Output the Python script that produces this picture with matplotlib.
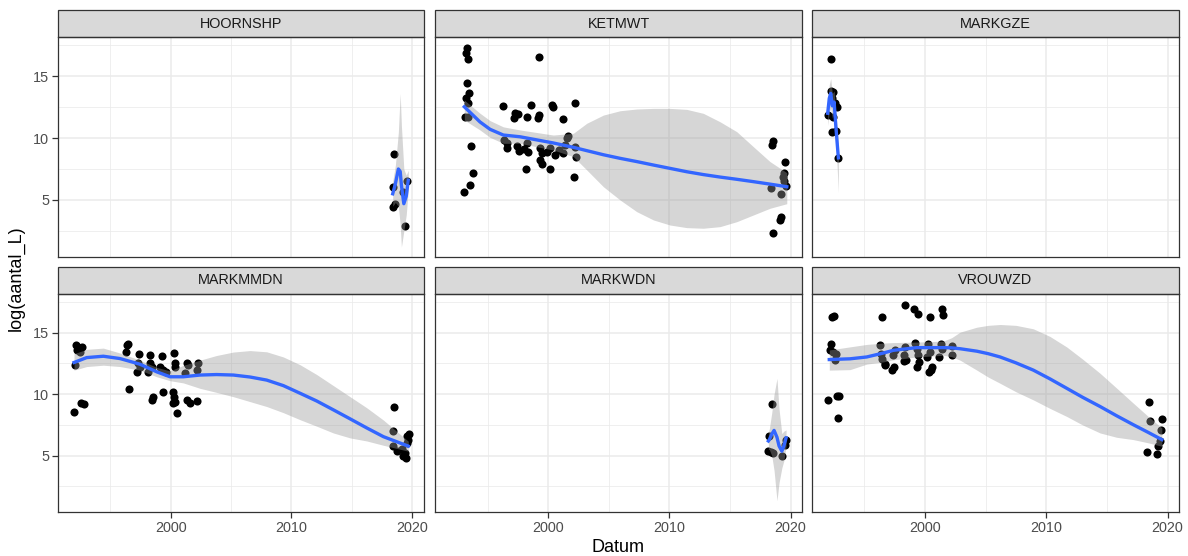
import numpy as np
import matplotlib.pyplot as plt
from matplotlib.patches import Rectangle

plt.rcParams['font.family'] = ['Liberation Sans', 'DejaVu Sans']

# ---- data ----
facetten = ["HOORNSHP", "KETMWT", "MARKGZE", "MARKMMDN", "MARKWDN", "VROUWZD"]

# HOORNSHP
hoornshp_jaar = [2018.5, 2018.38, 2018.4, 2018.6, 2019.4, 2019.6, 2019.26]
hoornshp_log = [8.69, 6.07, 4.46, 4.68, 2.9, 6.55, 5.67]
hoornshp_sm_jaar = [2018.38, 2018.6, 2018.85, 2019.0, 2019.1, 2019.3, 2019.5, 2019.67]
hoornshp_sm_fit = [5.5, 6.3, 7.5, 7.3, 6.2, 4.7, 5.3, 6.6]
hoornshp_sm_hoog = [6.5, 7.8, 10.5, 13.6, 11.0, 7.5, 7.0, 7.4]
hoornshp_sm_laag = [4.5, 4.8, 4.5, 3.0, 1.2, 2.5, 3.8, 5.8]

# KETMWT
ketmwt_jaar = [1993.27, 1993.21, 1993.37, 1999.24, 1993.27, 1993.48, 1993.21, 1993.4, 1993.13,
               1993.4, 1993.6, 1993.76, 1993.54, 1993.07,
               1996.29, 1998.55, 2000.29, 2000.42, 2002.19, 1997.25, 1997.53, 1997.17, 1998.22,
               1999.26, 1999.18, 2001.24,
               1996.35, 1997.4, 1997.6, 1996.57, 1998.27, 1998.35, 1999.32, 1999.46, 2000.14,
               2000.56, 2001.24, 2001.52, 2001.38, 2002.21, 2002.29, 1998.16, 1999.46, 1999.32,
               2000.14, 2002.13, 2001.6, 1996.6, 1998.0, 2000.9, 1999.9,
               2018.53, 2018.45, 2019.55, 2019.47, 2019.41, 2019.63, 2018.37, 2019.22, 2019.14,
               2019.22, 2018.58, 2019.5]
ketmwt_log = [17.23, 16.83, 16.35, 16.5, 14.46, 13.6, 13.2, 12.8, 11.7,
              11.7, 9.35, 7.15, 6.2, 5.67,
              12.6, 12.66, 12.66, 12.5, 12.8, 12.04, 11.94, 11.59, 11.72,
              11.85, 11.59, 11.5,
              9.84, 9.35, 8.98, 9.17, 9.57, 8.9, 9.17, 8.77, 9.17,
              8.63, 8.77, 9.98, 9.44, 9.3, 8.5, 7.48, 7.9, 8.23,
              7.48, 6.88, 10.16, 9.6, 9.1, 9.0, 8.9,
              9.78, 9.44, 8.06, 7.15, 6.88, 6.13, 5.94, 5.48, 3.39,
              3.6, 2.37, 6.5]
ketmwt_sm_jaar = [1993.07, 1994.36, 1995.2, 1996.29, 1997.67, 2000.42, 2002.07, 2003.18,
                  2004.55, 2005.93, 2007.3, 2008.68, 2010.05, 2011.43, 2012.8, 2014.18,
                  2015.56, 2016.93, 2018.3, 2019.69]
ketmwt_sm_fit = [12.52, 11.3, 10.7, 10.24, 10.1, 9.6, 9.25, 8.98, 8.65, 8.36, 8.1, 7.82, 7.55,
                 7.28, 7.05, 6.85, 6.67, 6.48, 6.28, 6.07]
ketmwt_sm_hoog = [13.06, 12.0, 11.4, 10.9, 10.65, 10.24, 10.38, 11.19, 11.85, 12.2, 12.34,
                  12.39, 12.39, 12.31, 11.99, 11.31, 10.51, 9.3, 8.1, 7.2]
ketmwt_sm_laag = [11.45, 10.65, 10.05, 9.57, 9.57, 9.03, 8.5, 7.42, 6.07, 5.0, 4.06, 3.39,
                  2.98, 2.77, 2.72, 2.85, 3.25, 3.79, 4.33, 4.7]

# MARKGZE
markgze_jaar = [1992.22, 1992.22, 1992.43, 1992.71, 1991.97, 1992.43, 1992.3, 1992.65, 1992.85,
                1992.6, 1992.35]
markgze_log = [16.35, 13.8, 13.7, 12.5, 11.85, 11.7, 10.5, 10.56, 8.36, 12.8, 13.2]
markgze_sm_jaar = [1991.97, 1992.1, 1992.22, 1992.35, 1992.5, 1992.65, 1992.85]
markgze_sm_fit = [12.0, 13.2, 13.6, 12.6, 12.9, 10.8, 8.4]
markgze_sm_hoog = [13.0, 14.3, 14.8, 13.6, 13.8, 12.0, 9.6]
markgze_sm_laag = [11.0, 12.1, 12.4, 11.6, 12.0, 9.6, 5.6]

# MARKMMDN
markmmdn_jaar = [1992.16, 1992.36, 1992.64, 1992.22, 1992.5, 1992.08, 1992.55, 1992.83, 1992.0,
                 1996.36, 1996.49, 1996.3, 1996.58, 1997.38, 1998.29, 1999.31, 2000.3,
                 1997.32, 1997.46, 1997.19, 1998.29, 1998.43, 1998.15, 1999.12, 1999.39, 1999.62,
                 2000.36, 2000.36, 2001.33, 2001.46, 2001.19, 2002.29, 2002.2,
                 1998.56, 1998.43, 1999.34, 2000.22, 2000.28, 2000.36, 2000.22, 2000.55, 2001.33,
                 2001.6, 2002.16,
                 2018.52, 2018.43, 2018.38, 2018.71, 2019.12, 2019.4, 2019.26, 2019.46, 2019.59,
                 2019.76, 2019.54, 2019.67]
markmmdn_log = [13.98, 13.84, 13.84, 13.57, 13.43, 12.36, 9.32, 9.22, 8.52,
                13.98, 14.06, 13.43, 10.4, 13.25, 13.17, 13.09, 13.36,
                12.5, 12.22, 11.82, 12.5, 12.22, 11.82, 12.22, 12.0, 11.82,
                12.5, 12.18, 12.5, 12.36, 11.7, 12.55, 11.96,
                9.8, 9.54, 10.2, 10.2, 9.8, 9.4, 9.27, 8.47, 9.54,
                9.32, 9.48,
                8.95, 6.98, 5.83, 5.37, 5.51, 5.24, 4.97, 4.78, 6.64,
                6.8, 6.05, 6.31]
markmmdn_sm_jaar = [1992.0, 1993.05, 1994.43, 1995.81, 1997.46, 1998.85, 1999.95, 2001.05,
                    2002.43, 2003.8, 2005.19, 2006.57, 2007.95, 2009.33, 2010.71, 2012.09,
                    2013.47, 2014.85, 2016.23, 2017.61, 2019.67]
markmmdn_sm_fit = [12.58, 12.98, 13.09, 12.9, 12.44, 11.82, 11.42, 11.42, 11.56, 11.6, 11.56,
                   11.4, 11.15, 10.7, 10.08, 9.45, 8.73, 8.0, 7.26, 6.55, 5.78]
markmmdn_sm_hoog = [13.3, 13.65, 13.75, 13.35, 12.77, 12.18, 11.9, 12.35, 12.77, 13.15, 13.43,
                    13.55, 13.45, 13.03, 12.4, 11.6, 10.7, 9.8, 8.9, 7.9, 6.18]
markmmdn_sm_laag = [11.96, 12.25, 12.36, 12.25, 11.96, 11.42, 11.1, 10.92, 10.48, 10.15, 9.8,
                    9.4, 9.0, 8.5, 7.93, 7.4, 6.85, 6.45, 6.2, 5.85, 5.37]

# MARKWDN
markwdn_jaar = [2018.45, 2018.25, 2018.17, 2018.53, 2019.28, 2019.61, 2019.55, 2018.4]
markwdn_log = [9.22, 6.58, 5.37, 5.19, 4.97, 6.31, 5.91, 5.3]
markwdn_sm_jaar = [2018.17, 2018.25, 2018.45, 2018.64, 2018.88, 2019.05, 2019.28, 2019.45, 2019.63]
markwdn_sm_fit = [6.2, 6.31, 6.75, 7.06, 6.5, 5.8, 5.37, 5.8, 6.45]
markwdn_sm_hoog = [6.9, 7.2, 8.5, 10.0, 11.29, 8.8, 6.8, 7.0, 7.1]
markwdn_sm_laag = [5.5, 5.5, 5.0, 3.8, 1.34, 2.8, 4.0, 4.6, 5.8]

# VROUWZD
vrouwzd_jaar = [1992.3, 1992.51, 1992.24, 1992.16, 1992.43, 1992.63, 1992.57, 1992.02, 1992.71,
                1992.9, 1992.8,
                1996.48, 1998.35, 1999.12, 1999.4, 2000.41, 2001.38, 2001.46,
                1996.28, 1996.37, 1996.43, 1996.7, 1997.52, 1997.38, 1998.35, 1998.3, 1998.4,
                1999.17, 1999.3, 1999.44, 2000.27, 2000.41, 2000.14, 2001.32, 2001.38, 2001.15,
                2002.2, 2002.25, 1996.7, 1997.46, 1997.3, 1998.29, 1999.3, 1999.52, 2000.49,
                2000.6, 2000.33,
                2018.5, 2018.56, 2019.58, 2019.47, 2019.39, 2019.25, 2018.34, 2019.12]
vrouwzd_log = [16.26, 16.4, 14.11, 13.63, 13.44, 13.25, 12.77, 9.54, 9.86,
               9.86, 8.06,
               16.26, 17.28, 16.94, 16.53, 16.31, 16.94, 16.48,
               13.98, 13.31, 12.9, 12.36, 13.57, 13.17, 13.84, 13.17, 12.77,
               14.16, 13.71, 13.17, 14.11, 13.44, 13.03, 14.11, 13.71, 13.03,
               13.9, 13.17, 12.44, 12.18, 12.0, 12.71, 12.18, 12.63, 12.0,
               12.18, 11.82,
               9.4, 7.79, 7.98, 7.06, 6.18, 5.77, 5.29, 5.1]
vrouwzd_sm_jaar = [1992.1, 1993.81, 1995.19, 1996.56, 1997.38, 1999.31, 2001.51, 2002.2,
                   2002.89, 2004.27, 2005.2, 2006.19, 2007.5, 2008.93, 2010.3, 2011.69,
                   2013.0, 2014.44, 2015.8, 2017.18, 2018.4, 2019.53]
vrouwzd_sm_fit = [12.82, 12.88, 13.03, 13.35, 13.57, 13.79, 13.79, 13.77, 13.7, 13.5, 13.3,
                  13.03, 12.55, 11.96, 11.25, 10.48, 9.75, 9.0, 8.25, 7.52, 6.9, 6.31]
vrouwzd_sm_hoog = [13.6, 13.85, 14.05, 14.16, 14.2, 14.24, 14.32, 14.6, 15.05, 15.45, 15.6,
                   15.67, 15.6, 15.32, 14.7, 13.84, 12.85, 11.7, 10.5, 9.27, 8.2, 7.26]
vrouwzd_sm_laag = [11.96, 12.0, 12.45, 12.63, 12.8, 13.03, 13.17, 13.05, 12.77, 11.96, 11.4,
                   10.89, 10.2, 9.54, 8.85, 8.19, 7.5, 6.85, 6.5, 6.31, 6.05, 5.77]

panels = [
    (hoornshp_jaar, hoornshp_log, hoornshp_sm_jaar, hoornshp_sm_fit, hoornshp_sm_laag, hoornshp_sm_hoog),
    (ketmwt_jaar, ketmwt_log, ketmwt_sm_jaar, ketmwt_sm_fit, ketmwt_sm_laag, ketmwt_sm_hoog),
    (markgze_jaar, markgze_log, markgze_sm_jaar, markgze_sm_fit, markgze_sm_laag, markgze_sm_hoog),
    (markmmdn_jaar, markmmdn_log, markmmdn_sm_jaar, markmmdn_sm_fit, markmmdn_sm_laag, markmmdn_sm_hoog),
    (markwdn_jaar, markwdn_log, markwdn_sm_jaar, markwdn_sm_fit, markwdn_sm_laag, markwdn_sm_hoog),
    (vrouwzd_jaar, vrouwzd_log, vrouwzd_sm_jaar, vrouwzd_sm_fit, vrouwzd_sm_laag, vrouwzd_sm_hoog),
]

# ---- layout (pixels of the 1188x556 canvas) ----
W, H = 1188, 556
col_x = [(57.7, 424.0), (435.0, 802.3), (811.7, 1179.3)]
row_y = [(37.0, 257.0), (294.0, 512.3)]  # panel top/bottom
strip_h = 27.0

fig = plt.figure(figsize=(W / 100, H / 100), dpi=100)

for i, (name, (px, py, sx, sfit, slo, shi)) in enumerate(zip(facetten, panels)):
    r, c = divmod(i, 3)
    x0, x1 = col_x[c]
    y0, y1 = row_y[r]
    ax = fig.add_axes([x0 / W, 1 - y1 / H, (x1 - x0) / W, (y1 - y0) / H])

    ax.scatter(px, py, s=34, color='black', linewidths=0, zorder=2)
    ax.fill_between(sx, slo, shi, color='#999999', alpha=0.4, lw=0, zorder=3)
    ax.plot(sx, sfit, color='#3366FF', lw=2.4, zorder=4, solid_joinstyle='round')

    ax.set_xlim(1990.65, 2020.97)
    ax.set_ylim(0.4, 18.15)
    ax.set_xticks([2000, 2010, 2020])
    ax.set_xticks([1995, 2005, 2015], minor=True)
    ax.set_yticks([5, 10, 15])
    ax.set_yticks([2.5, 7.5, 12.5, 17.5], minor=True)
    ax.grid(which='major', color='#EBEBEB', lw=1.1)
    ax.grid(which='minor', color='#EBEBEB', lw=0.55)
    ax.set_axisbelow(True)
    for sp in ax.spines.values():
        sp.set_color('#333333')
        sp.set_linewidth(0.9)

    ax.tick_params(which='minor', length=0)
    ax.tick_params(which='major', length=4, width=0.9, color='#333333',
                   labelsize=10.4, labelcolor='#4D4D4D', pad=2)
    ax.tick_params(axis='x', bottom=(r == 1), labelbottom=(r == 1))
    ax.tick_params(axis='y', left=(c == 0), labelleft=(c == 0))

    # facet strip
    sh = strip_h / (y1 - y0)
    ax.add_patch(Rectangle((0, 1), 1, sh, transform=ax.transAxes, clip_on=False,
                           facecolor='#D9D9D9', edgecolor='#333333', lw=0.9))
    ax.text(0.5, 1 + sh / 2, name, transform=ax.transAxes, ha='center', va='center',
            fontsize=10.4, color='#1A1A1A')

fig.text(16 / W, 1 - 278 / H, 'log(aantal_L)', rotation=90, ha='center', va='center',
         fontsize=13)
fig.text(618 / W, 1 - 547 / H, 'Datum', ha='center', va='center', fontsize=13)

fig.savefig('out.png', dpi=100)
